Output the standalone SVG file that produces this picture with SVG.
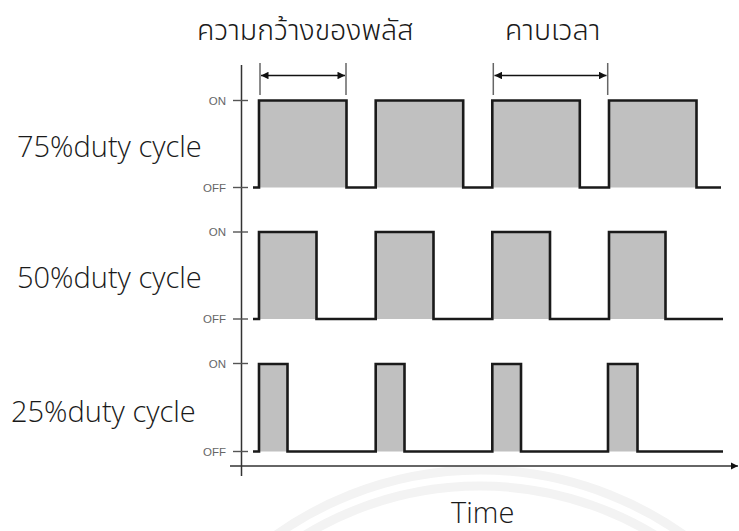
<svg xmlns="http://www.w3.org/2000/svg" width="739" height="531" viewBox="0 0 739 531">
  <style>
    .wm { fill: none; stroke: #f3f3f3; stroke-width: 9; }
    .pulse { fill: #c0c0c0; stroke: none; }
    .wave { fill: none; stroke: #1a1a1a; stroke-width: 2.6; stroke-linejoin: miter; }
    .tick { stroke: #555; stroke-width: 1.4; }
    .axis { stroke: #333; stroke-width: 1.5; fill: none; }
    .ext { stroke: #666; stroke-width: 1.5; }
    .dim { stroke: #111; stroke-width: 1.5; }
    .lvl { font-family: "Liberation Sans", Arial, sans-serif; font-size: 11.5px; fill: #666; text-anchor: end; }
    .big { font-family: "Open Sans", "Noto Sans", sans-serif; font-weight: 350; font-size: 29px; fill: #1a1a1a; }
    .thai { font-family: "Noto Sans Thai", "Noto Sans", "DejaVu Sans", sans-serif; font-weight: 300; font-size: 28.5px; fill: #1a1a1a; }
  </style>
  <defs>
    <marker id="ah" viewBox="0 0 10 10" refX="10" refY="5" markerWidth="6" markerHeight="5" orient="auto-start-reverse" markerUnits="strokeWidth">
      <path d="M0,0 L10,5 L0,10 z" fill="#111"/>
    </marker>
    <marker id="axh" viewBox="0 0 10 10" refX="10" refY="5" markerWidth="5" markerHeight="6" orient="auto" markerUnits="strokeWidth">
      <path d="M0,0 L10,5 L0,10 z" fill="#111"/>
    </marker>
  </defs>
  <rect width="739" height="531" fill="#ffffff"/>

  <g id="watermark">
    <circle class="wm" cx="480" cy="822" r="352"/>
    <circle class="wm" cx="480" cy="822" r="336"/>
  </g>

  <g id="wave-75">
    <rect class="pulse" x="259" y="100.5" width="87.5" height="87"/>
    <rect class="pulse" x="375.7" y="100.5" width="87.5" height="87"/>
    <rect class="pulse" x="492.3" y="100.5" width="87.5" height="87"/>
    <rect class="pulse" x="609" y="100.5" width="87.5" height="87"/>
    <path class="wave" d="M253,187.5 H259 V100.5 H346.5 V187.5 H375.7 V100.5 H463.2 V187.5 H492.3 V100.5 H579.8 V187.5 H609 V100.5 H696.5 V187.5 H721"/>
  </g>

  <g id="wave-50">
    <rect class="pulse" x="259" y="232" width="57.5" height="87"/>
    <rect class="pulse" x="375.7" y="232" width="57.8" height="87"/>
    <rect class="pulse" x="492.3" y="232" width="57.7" height="87"/>
    <rect class="pulse" x="609" y="232" width="56.5" height="87"/>
    <path class="wave" d="M253,319 H259 V232 H316.5 V319 H375.7 V232 H433.5 V319 H492.3 V232 H550 V319 H609 V232 H665.5 V319 H723"/>
  </g>

  <g id="wave-25">
    <rect class="pulse" x="259" y="364" width="28.5" height="87.5"/>
    <rect class="pulse" x="375.7" y="364" width="28.8" height="87.5"/>
    <rect class="pulse" x="492.3" y="364" width="28.7" height="87.5"/>
    <rect class="pulse" x="608" y="364" width="29.5" height="87.5"/>
    <path class="wave" d="M253,451.5 H259 V364 H287.5 V451.5 H375.7 V364 H404.5 V451.5 H492.3 V364 H521 V451.5 H608 V364 H637.5 V451.5 H723"/>
  </g>

  <g id="axes">
    <line class="axis" x1="241.5" y1="65" x2="241.5" y2="476"/>
    <line class="axis" x1="230" y1="466" x2="738" y2="466" marker-end="url(#axh)"/>
    <line class="tick" x1="233" y1="100.5" x2="248" y2="100.5"/>
    <line class="tick" x1="233" y1="187.5" x2="248" y2="187.5"/>
    <line class="tick" x1="233" y1="232" x2="248" y2="232"/>
    <line class="tick" x1="233" y1="319" x2="248" y2="319"/>
    <line class="tick" x1="233" y1="363.5" x2="248" y2="363.5"/>
    <line class="tick" x1="233" y1="451.5" x2="248" y2="451.5"/>
    <text class="lvl" x="226" y="104.5">ON</text>
    <text class="lvl" x="226" y="191.5">OFF</text>
    <text class="lvl" x="226" y="236">ON</text>
    <text class="lvl" x="226" y="323">OFF</text>
    <text class="lvl" x="226" y="367.5">ON</text>
    <text class="lvl" x="226" y="455.5">OFF</text>
  </g>

  <g id="connectors">
    <line class="ext" x1="260" y1="63" x2="260" y2="95"/>
    <line class="ext" x1="346" y1="63" x2="346" y2="95"/>
    <line class="dim" x1="261" y1="75.5" x2="345" y2="75.5" marker-start="url(#ah)" marker-end="url(#ah)"/>
    <line class="ext" x1="493.3" y1="63" x2="493.3" y2="95"/>
    <line class="ext" x1="607.7" y1="63" x2="607.7" y2="95"/>
    <line class="dim" x1="494.5" y1="75.5" x2="606.5" y2="75.5" marker-start="url(#ah)" marker-end="url(#ah)"/>
  </g>

  <g id="labels">
    <text id="pulse-width" class="thai" x="197" y="40">ความกว้างของพลัส</text>
    <text id="period" class="thai" x="505" y="40">คาบเวลา</text>
    <text id="d75" class="big" x="17" y="157">75%duty cycle</text>
    <text id="d50" class="big" x="17" y="288">50%duty cycle</text>
    <text id="d25" class="big" x="11" y="421.5">25%duty cycle</text>
    <text id="time" class="big" x="451" y="523">Time</text>
  </g>
</svg>
